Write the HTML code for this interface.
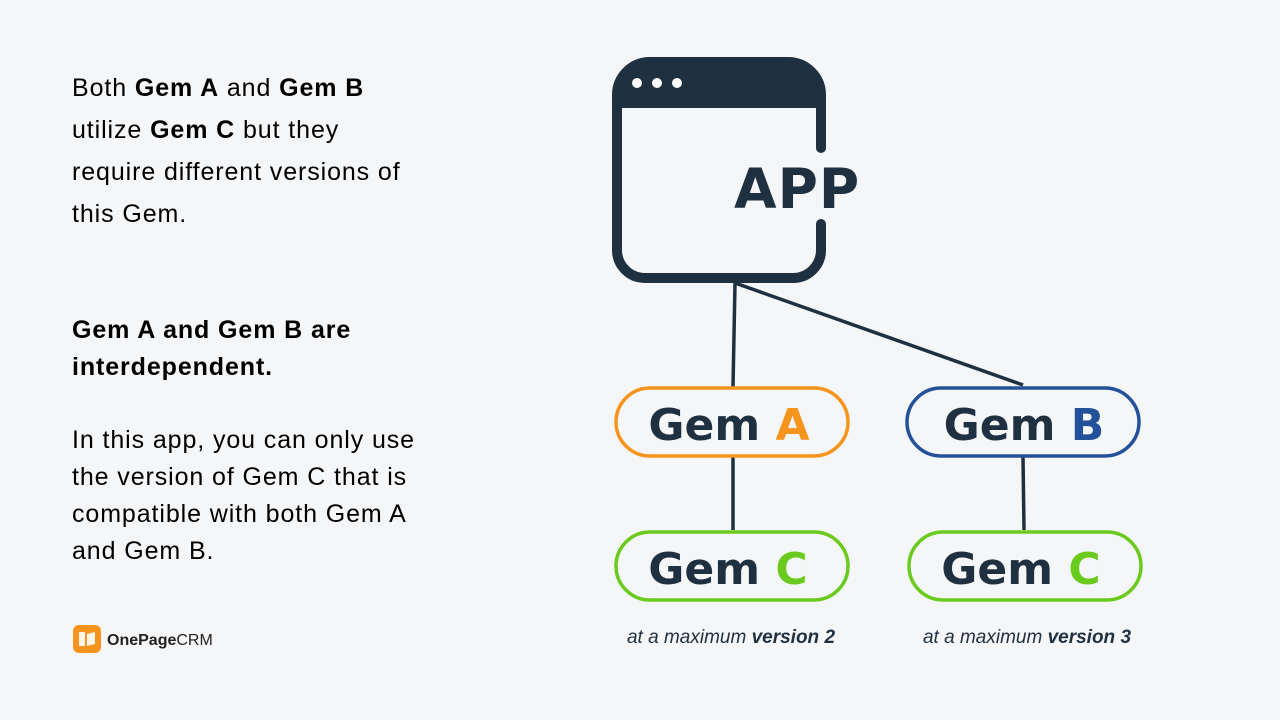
<!DOCTYPE html>
<html><head><style>
body{margin:0;width:1280px;height:720px;background:#f5f6f8;font-family:"Liberation Sans","DejaVu Sans",sans-serif;color:#000;position:relative;overflow:hidden}
.t{position:absolute;left:72px;font-size:25px;line-height:42px;width:400px;letter-spacing:0.9px}
.t b{font-weight:bold}
</style></head><body>
<div class="t" style="top:67px">Both <b>Gem A</b> and <b>Gem B</b><br>utilize <b>Gem C</b> but they<br>require different versions of<br>this Gem.</div>
<div class="t" style="top:312px;line-height:37px;font-weight:bold">Gem A and Gem B are<br>interdependent.</div>
<div class="t" style="top:422px;line-height:37px">In this app, you can only use<br>the version of Gem C that is<br>compatible with both Gem A<br>and Gem B.</div>
<svg width="1280" height="720" style="position:absolute;left:0;top:0">
<rect x="73" y="625" width="28" height="28" rx="6" fill="#f7941d"/>
<path d="M79 632 h6 v14 h-6z M87 634 l8 -2 v12 l-8 2z" fill="#fff" opacity=".9"/>
<text x="107" y="645" font-size="16" font-weight="bold" fill="#222" font-family="Liberation Sans,sans-serif">OnePage<tspan font-weight="normal">CRM</tspan></text>
<g stroke="#1f3040" stroke-width="10" fill="none" stroke-linecap="round">
<path d="M821 148 V95 a33 33 0 0 0 -33 -33 H650 a33 33 0 0 0 -33 33 V250 a28 28 0 0 0 28 28 H793 a28 28 0 0 0 28 -28 V224"/>
</g>
<path d="M617 100 V95 a33 33 0 0 1 33 -33 H788 a33 33 0 0 1 33 33 V108 H617z" fill="#1f3040"/>
<circle cx="637" cy="83" r="5" fill="#fff"/><circle cx="657" cy="83" r="5" fill="#fff"/><circle cx="677" cy="83" r="5" fill="#fff"/>
<text x="734" y="208" font-size="55" font-weight="bold" fill="#1f3040" font-family="DejaVu Sans,sans-serif" letter-spacing="1">APP</text>
<g stroke="#1f3040" stroke-width="3.5">
<line x1="735" y1="283" x2="733" y2="387"/>
<line x1="735" y1="283" x2="1023" y2="385"/>
<line x1="733" y1="457" x2="733" y2="530"/>
<line x1="1023" y1="457" x2="1024" y2="530"/>
</g>
<g stroke-width="3.5" fill="#f5f6f8">
<rect x="616" y="388" width="232" height="68" rx="34" stroke="#f7941d"/>
<rect x="907" y="388" width="232" height="68" rx="34" stroke="#24529a"/>
<rect x="616" y="532" width="232" height="68" rx="34" stroke="#6acb1e"/>
<rect x="909" y="532" width="232" height="68" rx="34" stroke="#6acb1e"/>
</g>
<g font-size="44" font-weight="bold" fill="#1f3040" text-anchor="middle" font-family="DejaVu Sans,sans-serif">
<text x="729" y="440">Gem <tspan fill="#f7941d">A</tspan></text>
<text x="1024" y="440">Gem <tspan fill="#24529a">B</tspan></text>
<text x="728" y="584">Gem <tspan fill="#6acb1e">C</tspan></text>
<text x="1021" y="584">Gem <tspan fill="#6acb1e">C</tspan></text>
</g>
<g font-size="19" font-style="italic" fill="#1f3040" text-anchor="middle">
<text x="731" y="643">at a maximum <tspan font-weight="bold">version 2</tspan></text>
<text x="1027" y="643">at a maximum <tspan font-weight="bold">version 3</tspan></text>
</g>
</svg>
</body></html>
